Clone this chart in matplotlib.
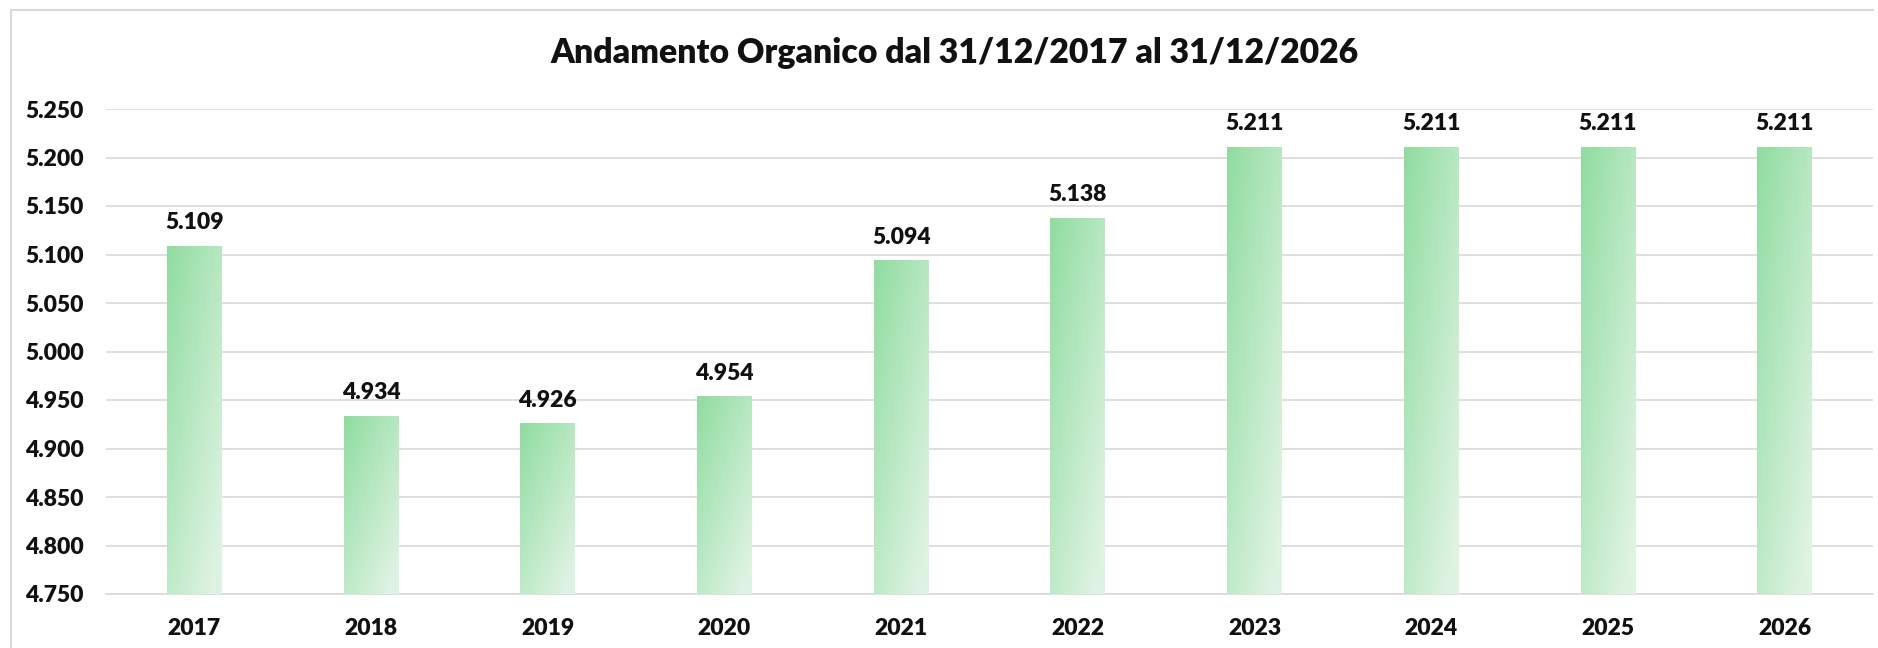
import numpy as np
import matplotlib
matplotlib.use("Agg")
import matplotlib.pyplot as plt
from matplotlib.lines import Line2D

years = ["2017", "2018", "2019", "2020", "2021", "2022", "2023", "2024", "2025", "2026"]
organico = [5109, 4934, 4926, 4954, 5094, 5138, 5211, 5211, 5211, 5211]
y_ticks = [4750, 4800, 4850, 4900, 4950, 5000, 5050, 5100, 5150, 5200, 5250]
title = "Andamento Organico dal 31/12/2017 al 31/12/2026"

def fmt(v):
    return f"{v:,}".replace(",", ".")

plt.rcParams['font.family'] = ['Lato', 'DejaVu Sans']
W, H = 1878, 648
fig = plt.figure(figsize=(W / 100, H / 100), dpi=100)
fig.patch.set_facecolor("white")

ax = fig.add_axes([106 / W, (H - 594) / H, (1873 - 106) / W, (594 - 109) / H])

x = np.arange(len(years))
bars = ax.bar(x, organico, width=0.31, bottom=0, color="#b5e6be", zorder=2)

# gradient fill inside each bar
dark = np.array([144, 220, 160]) / 255
light = np.array([222, 243, 226]) / 255
n = 64
u = np.linspace(0, 1, n)[None, :]
v = np.linspace(0, 1, n)[:, None]
t = np.clip(0.5 * u + 0.6 * v, 0, 1)
grad = dark[None, None, :] * (1 - t[..., None]) + light[None, None, :] * t[..., None]

ax.set_ylim(y_ticks[0], y_ticks[-1])
ax.set_xlim(-0.5, len(years) - 0.5)
for b in bars:
    x0, w = b.get_x(), b.get_width()
    top = b.get_height()
    im = ax.imshow(grad, extent=(x0, x0 + w, y_ticks[0], top), origin="upper",
                   aspect="auto", zorder=3, interpolation="bilinear")
    im.set_clip_path(b)
ax.set_ylim(y_ticks[0], y_ticks[-1])
ax.set_xlim(-0.5, len(years) - 0.5)

labels = ax.bar_label(bars, labels=[fmt(v) for v in organico], padding=9,
                      fontsize=16.5, fontweight="heavy", color="#111111")
for l in labels:
    l.set_zorder(5)

ax.set_yticks(y_ticks)
ax.set_yticklabels([fmt(v) for v in y_ticks])
ax.set_xticks(x)
ax.set_xticklabels(years)
ax.tick_params(axis="both", length=0, labelsize=16.5, colors="#111111")
ax.tick_params(axis="x", pad=17)
ax.tick_params(axis="y", pad=16)
for lab in ax.get_xticklabels() + ax.get_yticklabels():
    lab.set_fontweight("heavy")

ax.grid(axis="y", color="#d9d9d9", linewidth=1.2, zorder=1)
ax.set_axisbelow(True)
for s in ["top", "right", "left"]:
    ax.spines[s].set_visible(False)
ax.spines["bottom"].set_color("#d9d9d9")
ax.spines["bottom"].set_linewidth(1.2)
ax.set_facecolor("none")

fig.text(955 / W, 1 - 53 / H, title, ha="center", va="center",
         fontsize=24.3, fontweight="heavy", color="#111111")

# chart area border (left and top visible)
bx, by = 11 / W, 1 - 10 / H
fig.add_artist(Line2D([bx, bx], [0, by], transform=fig.transFigure, color="#d9d9d9", linewidth=1.5))
fig.add_artist(Line2D([bx, 1873 / W], [by, by], transform=fig.transFigure, color="#d9d9d9", linewidth=1.5))

fig.savefig("out.png", dpi=100, facecolor="white")
